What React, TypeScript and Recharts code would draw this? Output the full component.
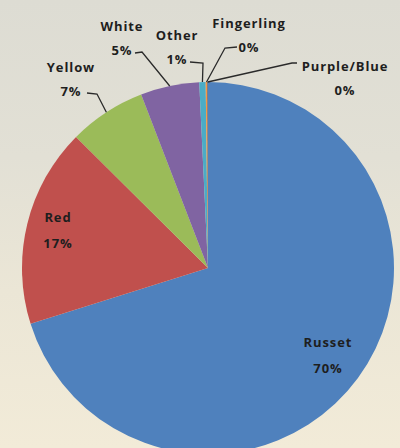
import React from 'react';
import { PieChart, Pie, Cell } from 'recharts';

const categories = ['Russet', 'Red', 'Yellow', 'White', 'Other', 'Fingerling', 'Purple/Blue'];
const shares = [70.15, 17.3, 6.7, 5.1, 0.55, 0.15, 0.05];
const sliceColors = ['#4f81bd', '#c0504d', '#9bbb59', '#8064a2', '#4bacc6', '#f79646', '#2c4d75'];

const data = categories.map((name, i) => ({ name, value: shares[i] }));

// label layout (offsets relative to the pie centre)
type Lay = { inside?: boolean; r?: number; tx?: number; ty?: number; pts?: [number, number][] };
const layout: Record<string, Lay> = {
  Russet: { inside: true, r: 0.8 },
  Red: { inside: true, r: 0.83 },
  Yellow: { tx: -137, ty: -189, pts: [[-111, -174], [-121, -175]] },
  White: { tx: -86, ty: -230, pts: [[-66, -216], [-73, -215]] },
  Other: { tx: -31, ty: -221, pts: [[-5, -205], [-18, -206]] },
  Fingerling: { tx: 41, ty: -233, pts: [[17, -220], [29, -221]] },
  'Purple/Blue': { tx: 137, ty: -190, pts: [[84, -205], [89, -205]] },
};

const FONT = "'Open Sans', 'DejaVu Sans', sans-serif";

const renderLabel = (p: any) => {
  const { cx, cy, midAngle, outerRadius, index, value } = p;
  const RAD = Math.PI / 180;
  const name = categories[index];
  const pct = Math.round(value) + '%';
  const lay = layout[name];
  const textStyle = {
    fontFamily: FONT,
    fontWeight: 700,
    fontSize: 13,
    letterSpacing: 0.9,
    fill: '#1e1e1e',
  } as React.CSSProperties;
  if (lay.inside) {
    const r = outerRadius * (lay.r as number);
    const x = cx + r * Math.cos(-midAngle * RAD);
    const y = cy + r * Math.sin(-midAngle * RAD);
    return (
      <g key={`lbl-${index}`}>
        <text x={x} y={y - 14} textAnchor="middle" dominantBaseline="central" style={textStyle}>{name}</text>
        <text x={x} y={y + 12} textAnchor="middle" dominantBaseline="central" style={textStyle}>{pct}</text>
      </g>
    );
  }
  const ex = cx + outerRadius * Math.cos(-midAngle * RAD);
  const ey = cy + outerRadius * Math.sin(-midAngle * RAD);
  const pts = [[ex, ey], ...(lay.pts as [number, number][]).map(([dx, dy]) => [cx + dx, cy + dy])];
  const tx = cx + (lay.tx as number);
  const ty = cy + (lay.ty as number);
  return (
    <g key={`lbl-${index}`}>
      <polyline points={pts.map((q) => q.join(',')).join(' ')} fill="none" stroke="#2a2a2a" strokeWidth={1.3} />
      <text x={tx} y={ty - 12} textAnchor="middle" dominantBaseline="central" style={textStyle}>{name}</text>
      <text x={tx} y={ty + 12} textAnchor="middle" dominantBaseline="central" style={textStyle}>{pct}</text>
    </g>
  );
};

export default function App() {
  return (
    <div
      style={{
        position: 'fixed',
        left: 0,
        top: 0,
        width: 400,
        height: 448,
        overflow: 'hidden',
        background: 'linear-gradient(180deg, #dddcd3 0%, #e2e0d5 35%, #ebe6d6 65%, #f2ebd8 100%)',
      }}
    >
      <PieChart width={400} height={448}>
        <Pie
          data={data}
          dataKey="value"
          nameKey="name"
          cx={203}
          cy={263}
          outerRadius={186}
          startAngle={90}
          endAngle={-270}
          stroke="none"
          label={renderLabel}
          labelLine={false}
          isAnimationActive={false}
        >
          {data.map((d, i) => (
            <Cell key={d.name} fill={sliceColors[i]} />
          ))}
        </Pie>
      </PieChart>
    </div>
  );
}
